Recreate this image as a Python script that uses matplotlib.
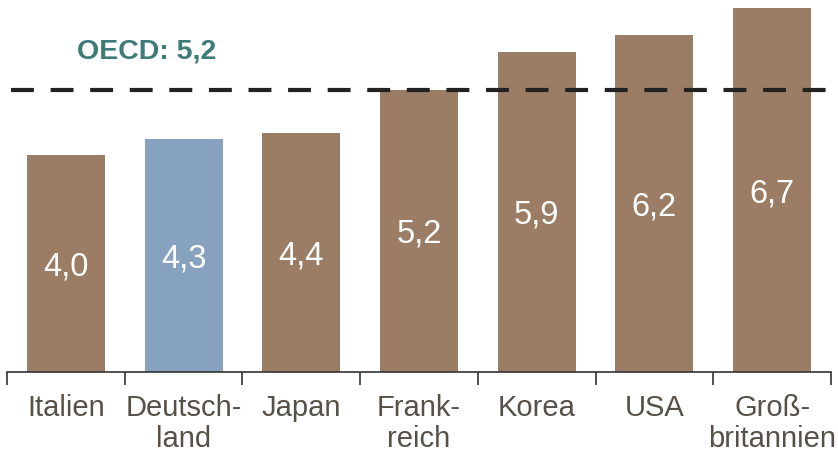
import matplotlib.pyplot as plt

# Daten
laender = ['Italien', 'Deutsch-\nland', 'Japan', 'Frank-\nreich', 'Korea', 'USA', 'Groß-\nbritannien']
werte = [4.0, 4.3, 4.4, 5.2, 5.9, 6.2, 6.7]
oecd = 5.2

braun = '#9A7D64'
blau = '#87A2BF'
farben = [blau if l.startswith('Deutsch') else braun for l in laender]
textfarbe = '#575048'

plt.rcParams['font.family'] = ['Liberation Sans', 'DejaVu Sans']

fig = plt.figure(figsize=(8.38, 4.55), dpi=100)
ax = fig.add_axes([7 / 838, (455 - 372) / 455, 824 / 838, 372 / 455])

x = range(len(laender))
ax.bar(x, werte, width=0.663, color=farben)

# Werte in den Balken
for i, v in enumerate(werte):
    ax.text(i, v / 2, f'{v:.1f}'.replace('.', ','), ha='center', va='center_baseline',
            color='white', fontsize=23.5)

# OECD-Linie
ax.axhline(oecd, xmin=0.005, xmax=1.0, color='#222222', lw=3, dashes=(5.5, 4))
ax.text(0.69, oecd + 0.71, f'OECD: {oecd:.1f}'.replace('.', ','), ha='center', va='center',
        color='#3D7A78', fontsize=20.5, fontweight='bold')

ax.set_xlim(-0.5, len(laender) - 0.5)
ax.set_ylim(0, 372 / 54.3)

for s in ['top', 'right', 'left']:
    ax.spines[s].set_visible(False)
ax.spines['bottom'].set_color('#333333')
ax.spines['bottom'].set_linewidth(1.2)
ax.set_yticks([])

ax.set_xticks([i - 0.5 for i in range(len(laender) + 1)])
ax.set_xticklabels([])
ax.set_xticks(list(x), minor=True)
ax.set_xticklabels(laender, minor=True, fontsize=21, color=textfarbe, linespacing=1.12)
ax.tick_params(axis='x', which='major', length=9, width=1.2, color='#333333', direction='out')
ax.tick_params(axis='x', which='minor', length=0, pad=16)

fig.savefig('out.png', dpi=100)
